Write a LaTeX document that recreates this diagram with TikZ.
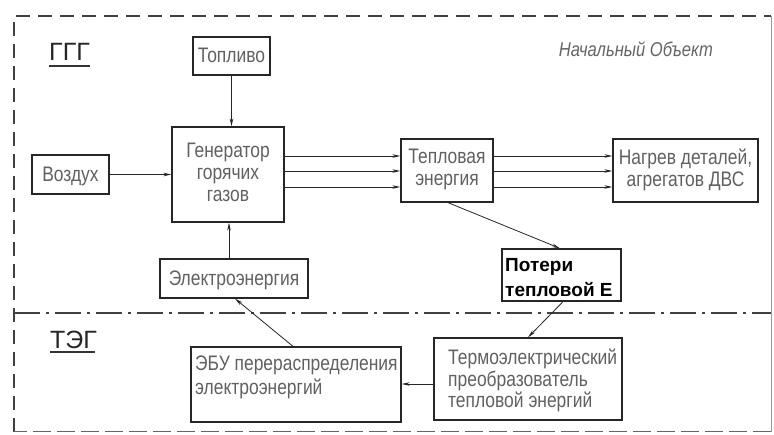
\documentclass[tikz,border=0pt]{standalone}
\usepackage{fontspec}
\setmainfont{Liberation Sans}
\newfontfamily\gost{Liberation Sans}[FakeStretch=0.83]
\usetikzlibrary{arrows.meta}
\begin{document}
\begin{tikzpicture}[x=1pt,y=-1pt,
  box/.style={draw=black!85, line width=1.3pt, inner sep=0pt},
  txt/.style={inner sep=0pt, text=black!62, font=\gost\fontsize{21}{22}\selectfont},
  arr/.style={draw=black!85, line width=0.8pt, -{Stealth[length=8pt,width=3.5pt]}},
  frame/.style={draw=black!75, line width=1.6pt, dash pattern=on 14pt off 8pt},
]
\useasboundingbox (0,0) rectangle (774,435);
\fill[white] (0,0) rectangle (774,435);
% frame
\coordinate (f1) at (14,16);
\coordinate (f2) at (771,16);
\coordinate (f3) at (771,432);
\coordinate (f4) at (14,432);
\coordinate (d1) at (14,313);
\coordinate (d2) at (771,313);
\draw[frame] (f4) -- (f1) -- (f2);
\draw[draw=black!40, line width=0.6pt] (f2) -- (f3);
\draw[draw=black!60, line width=1pt, dash pattern=on 18pt off 6pt] (f3) -- (f4);
\draw[draw=black!75, line width=1.2pt, dash pattern=on 26pt off 6pt on 3pt off 6pt] (d1) -- (d2);
% labels
\node[inner sep=0pt, text=black!85, font=\fontsize{25}{25}\selectfont, anchor=base west] (ggg) at (49,61) {ГГГ};
\draw[black!80, line width=1.2pt] (ggg.base west) ++(0,5) -- ++(41,0);
\node[inner sep=0pt, text=black!85, font=\fontsize{25}{25}\selectfont, anchor=base west] (teg) at (50,349) {ТЭГ};
\draw[black!80, line width=1.2pt] (teg.base west) ++(0,3) -- ++(45,0);
\node[inner sep=0pt, text=black!60, font=\gost\fontsize{20}{20}\selectfont\itshape, anchor=base] (nach) at (636,57) {Начальный Объект};
% boxes
\node[box, minimum width=77pt, minimum height=38pt] (top) at (231.5,56) {};
\node[txt, anchor=base] (topt) at (top.center |- 0,63) {Топливо};
\node[box, minimum width=112pt, minimum height=95pt] (gen) at (228,174.5) {};
\node[txt, align=center] (gent) at (228,172) {Генератор\\горячих\\газов};
\node[box, minimum width=77pt, minimum height=39pt] (voz) at (70.5,174.5) {};
\node[txt, anchor=base] (vozt) at (voz.center |- 0,182) {Воздух};
\node[box, minimum width=92pt, minimum height=63pt] (tep) at (447,170.5) {};
\node[txt, align=center] (tept) at (447,169.5) {Тепловая\\энергия};
\node[box, minimum width=145pt, minimum height=63pt] (nag) at (685.5,170.5) {};
\node[txt, align=center] (nagt) at (685.5,169.5) {Нагрев деталей,\\агрегатов ДВС};
\node[box, minimum width=148pt, minimum height=39pt] (el) at (234,278.5) {};
\node[txt, anchor=base] (elt) at (el.center |- 0,286) {Электроэнергия};
\node[box, minimum width=119pt, minimum height=52pt] (pot) at (561.5,275) {};
\node[txt, anchor=base west, text=black, font=\fontsize{19}{22}\selectfont\bfseries] (pot1) at (505,272) {Потери};
\node[txt, anchor=base west, text=black, font=\fontsize{19}{22}\selectfont\bfseries] (pot2) at (505,297) {тепловой Е};
\node[box, minimum width=210pt, minimum height=75pt] (ebu) at (296,384.5) {};
\node[txt, anchor=base west] (ebu1) at (195,371) {ЭБУ перераспределения};
\node[txt, anchor=base west] (ebu2) at (195,395) {электроэнергий};
\node[box, minimum width=188pt, minimum height=82pt] (term) at (528,379) {};
\node[txt, anchor=base west] (term1) at (448,365) {Термоэлектрический};
\node[txt, anchor=base west] (term2) at (448,387) {преобразователь};
\node[txt, anchor=base west] (term3) at (448,408) {тепловой энергий};
% helper coordinates
\coordinate (ya) at (0,156);
\coordinate (yb) at (0,171);
\coordinate (yc) at (0,187);
% arrows
\draw[arr] (top.south) -- (gen.north -| top.south);
\draw[arr] (voz.east) -- (gen.west |- voz.east);
\draw[arr] (gen.east |- ya) -- (tep.west |- ya);
\draw[arr] (gen.east |- yb) -- (tep.west |- yb);
\draw[arr] (gen.east |- yc) -- (tep.west |- yc);
\draw[arr] (tep.east |- ya) -- (nag.west |- ya);
\draw[arr] (tep.east |- yb) -- (nag.west |- yb);
\draw[arr] (tep.east |- yc) -- (nag.west |- yc);
\draw[arr] (tep.south -| 448,0) -- (pot.north -| 560,0);
\draw[arr] (pot.south -| 563,0) -- (term.north -| 528,0);
\draw[arr] (term.west |- 0,384) -- (ebu.east |- 0,384);
\draw[arr] (ebu.north -| 293,0) -- (el.south -| 235,0);
\draw[arr] (el.north -| 229,0) -- (gen.south -| 229,0);
\end{tikzpicture}
\end{document}
